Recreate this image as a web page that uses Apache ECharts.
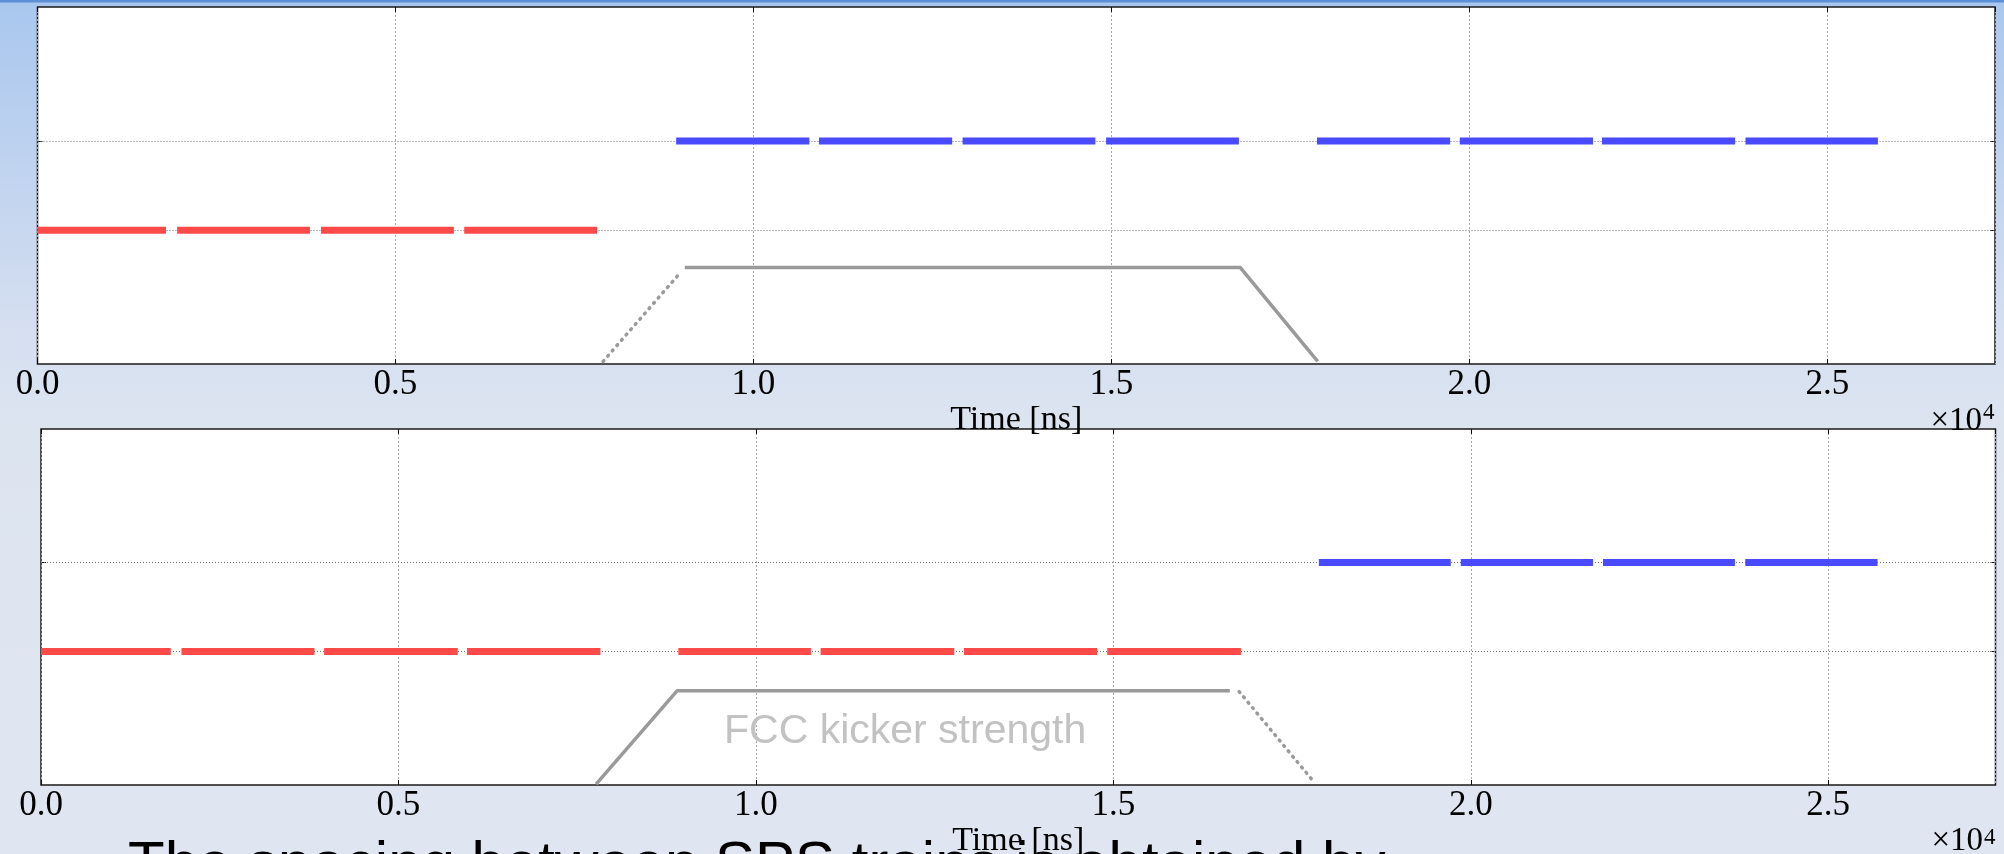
<!DOCTYPE html>
<html><head><meta charset="utf-8">
<script src="https://cdn.jsdelivr.net/npm/echarts@6/dist/echarts.min.js"></script>
<style>
html,body{margin:0;padding:0;width:2004px;height:854px;overflow:hidden;}
body{background:linear-gradient(180deg,#5b8fd6 0px,#5b8fd6 2px,#a9c7ee 3px,#c0d3ef 170px,#d5dff0 330px,#dce4f0 420px,#dfe6f1 854px);}
#c{width:2004px;height:854px;}
</style></head><body><div id="c"></div>
<script>
// ---- axis setup (ns) ----
const xMin = 0;
const xMax = 27340;
const xStep = 5000;
const yMin = -0.5;
const yMax = 3.5;
const levels = [1, 2];            // SPS level, FCC level

// ---- top panel ----
const topRedStart  = [0, 1950, 3960, 5960];
const topRedEnd    = [1795, 3805, 5815, 7815];
const topBlueStart = [8920, 10915, 12920, 14925, 17870, 19865, 21850, 23855];
const topBlueEnd   = [10780, 12775, 14775, 16780, 19730, 21725, 23710, 25705];
const topKickDotX  = [7900, 8985];
const topKickDotY  = [-0.47, 0.53];
const topKickX     = [9040, 16800, 17880];
const topKickY     = [0.58, 0.58, -0.47];

// ---- bottom panel ----
const botRedStart  = [0, 1965, 3960, 5960, 8915, 10905, 12910, 14915];
const botRedEnd    = [1815, 3825, 5830, 7825, 10770, 12775, 14775, 16785];
const botBlueStart = [17875, 19860, 21850, 23840];
const botBlueEnd   = [19720, 21710, 23695, 25690];
const botKickX     = [7765, 8900, 16630];
const botKickY     = [-0.49, 0.56, 0.56];
const botKickDotX  = [16760, 17800];
const botKickDotY  = [0.55, -0.46];

const RED = '#ff4a4a', BLUE = '#4a4aff', GREY = '#9a9a9a';
const serif = '"Liberation Serif", "Times New Roman", serif';
const sans = '"Liberation Sans", Arial, sans-serif';

function bands(starts, ends, level, color, ai) {
  return starts.map((s, i) => ({
    type: 'line', xAxisIndex: ai, yAxisIndex: ai,
    data: [[s, level], [ends[i], level]],
    symbol: 'none', showSymbol: false, silent: true, z: 5,
    lineStyle: { color: color, width: 7, cap: 'butt' }
  }));
}
function kick(xs, ys, ai, dotted) {
  return {
    type: 'line', xAxisIndex: ai, yAxisIndex: ai,
    data: xs.map((x, i) => [x, ys[i]]),
    symbol: 'none', showSymbol: false, silent: true, z: 4,
    lineStyle: { color: GREY, width: 3.5, type: dotted ? [1, 6] : 'solid', cap: dotted ? 'round' : 'butt' }
  };
}
function gridLines(ai) {
  return {
    type: 'line', xAxisIndex: ai, yAxisIndex: ai, data: [], z: 2, silent: true,
    markLine: {
      silent: true, symbol: 'none', animation: false, label: { show: false },
      lineStyle: { color: '#777', width: 1, type: [1, 2] },
      data: levels.map(v => ({ yAxis: v }))
    }
  };
}
function xAx(gi, pos) {
  const bottom = pos === 'bottom';
  return {
    type: 'value', gridIndex: gi, position: pos, min: xMin, max: xMax, interval: xStep,
    axisLine: { show: false, onZero: false },
    axisTick: { show: true, inside: true, length: 5, lineStyle: { color: '#111', width: 1 } },
    axisLabel: bottom ? {
      show: true, margin: 3, color: '#000', fontFamily: serif, fontSize: 35,
      showMaxLabel: false, formatter: v => (v / 10000).toFixed(1)
    } : { show: false },
    splitLine: bottom ? { show: true, lineStyle: { color: '#a8a8a8', width: 1, type: [2, 2] } } : { show: false },
    name: bottom ? 'Time [ns]' : '', nameLocation: 'middle', nameGap: 29,
    nameTextStyle: { color: '#000', fontFamily: serif, fontSize: 34 }
  };
}
function yAx(gi, pos) {
  return {
    type: 'value', gridIndex: gi, position: pos, min: yMin, max: yMax,
    axisLine: { show: false, onZero: false },
    axisTick: { show: true, inside: true, length: 5, customValues: levels, lineStyle: { color: '#111', width: 1 } },
    axisLabel: { show: false },
    splitLine: { show: false }
  };
}

const option = {
  animation: false,
  backgroundColor: 'transparent',
  grid: [
    { left: 37.5, top: 7, width: 1957.5, height: 357, containLabel: false, outerBoundsMode: 'none',
      show: true, backgroundColor: '#fff', borderColor: '#1a1a1a', borderWidth: 1.5 },
    { left: 41, top: 429, width: 1954.5, height: 356, containLabel: false, outerBoundsMode: 'none',
      show: true, backgroundColor: '#fff', borderColor: '#1a1a1a', borderWidth: 1.5 }
  ],
  xAxis: [xAx(0, 'bottom'), xAx(0, 'top'), xAx(1, 'bottom'), xAx(1, 'top')],
  yAxis: [yAx(0, 'left'), yAx(0, 'right'), yAx(1, 'left'), yAx(1, 'right')],
  series: [].concat(
    [gridLines(0)],
    bands(topRedStart, topRedEnd, levels[0], RED, 0),
    bands(topBlueStart, topBlueEnd, levels[1], BLUE, 0),
    [kick(topKickDotX, topKickDotY, 0, true), kick(topKickX, topKickY, 0, false)],
    [gridLines(2)],
    bands(botRedStart, botRedEnd, levels[0], RED, 2),
    bands(botBlueStart, botBlueEnd, levels[1], BLUE, 2),
    [kick(botKickX, botKickY, 2, false), kick(botKickDotX, botKickDotY, 2, true)]
  ),
  graphic: [
    { type: 'text', left: 128, top: 836, z: 0, silent: true,
      style: { text: 'The spacing between SPS trains is obtained by', font: '60px ' + sans, fill: '#000' } },
    { type: 'text', right: 2004 - 1982, top: 405, silent: true,
      style: { text: '×10', font: '33px ' + serif, fill: '#000' } },
    { type: 'text', left: 1983, top: 401, silent: true,
      style: { text: '4', font: '23px ' + serif, fill: '#000' } },
    { type: 'text', right: 2004 - 1983, top: 824.5, silent: true,
      style: { text: '×10', font: '33px ' + serif, fill: '#000' } },
    { type: 'text', left: 1984, top: 826, silent: true,
      style: { text: '4', font: '23px ' + serif, fill: '#000' } },
    { type: 'text', left: 724, top: 711, silent: true, z: 10,
      style: { text: 'FCC kicker strength', font: '41px ' + sans, fill: '#c2c2c2' } }
  ]
};
const chart = echarts.init(document.getElementById('c'), null, { renderer: 'canvas', width: 2004, height: 854 });
chart.setOption(option);
</script>
</body></html>
